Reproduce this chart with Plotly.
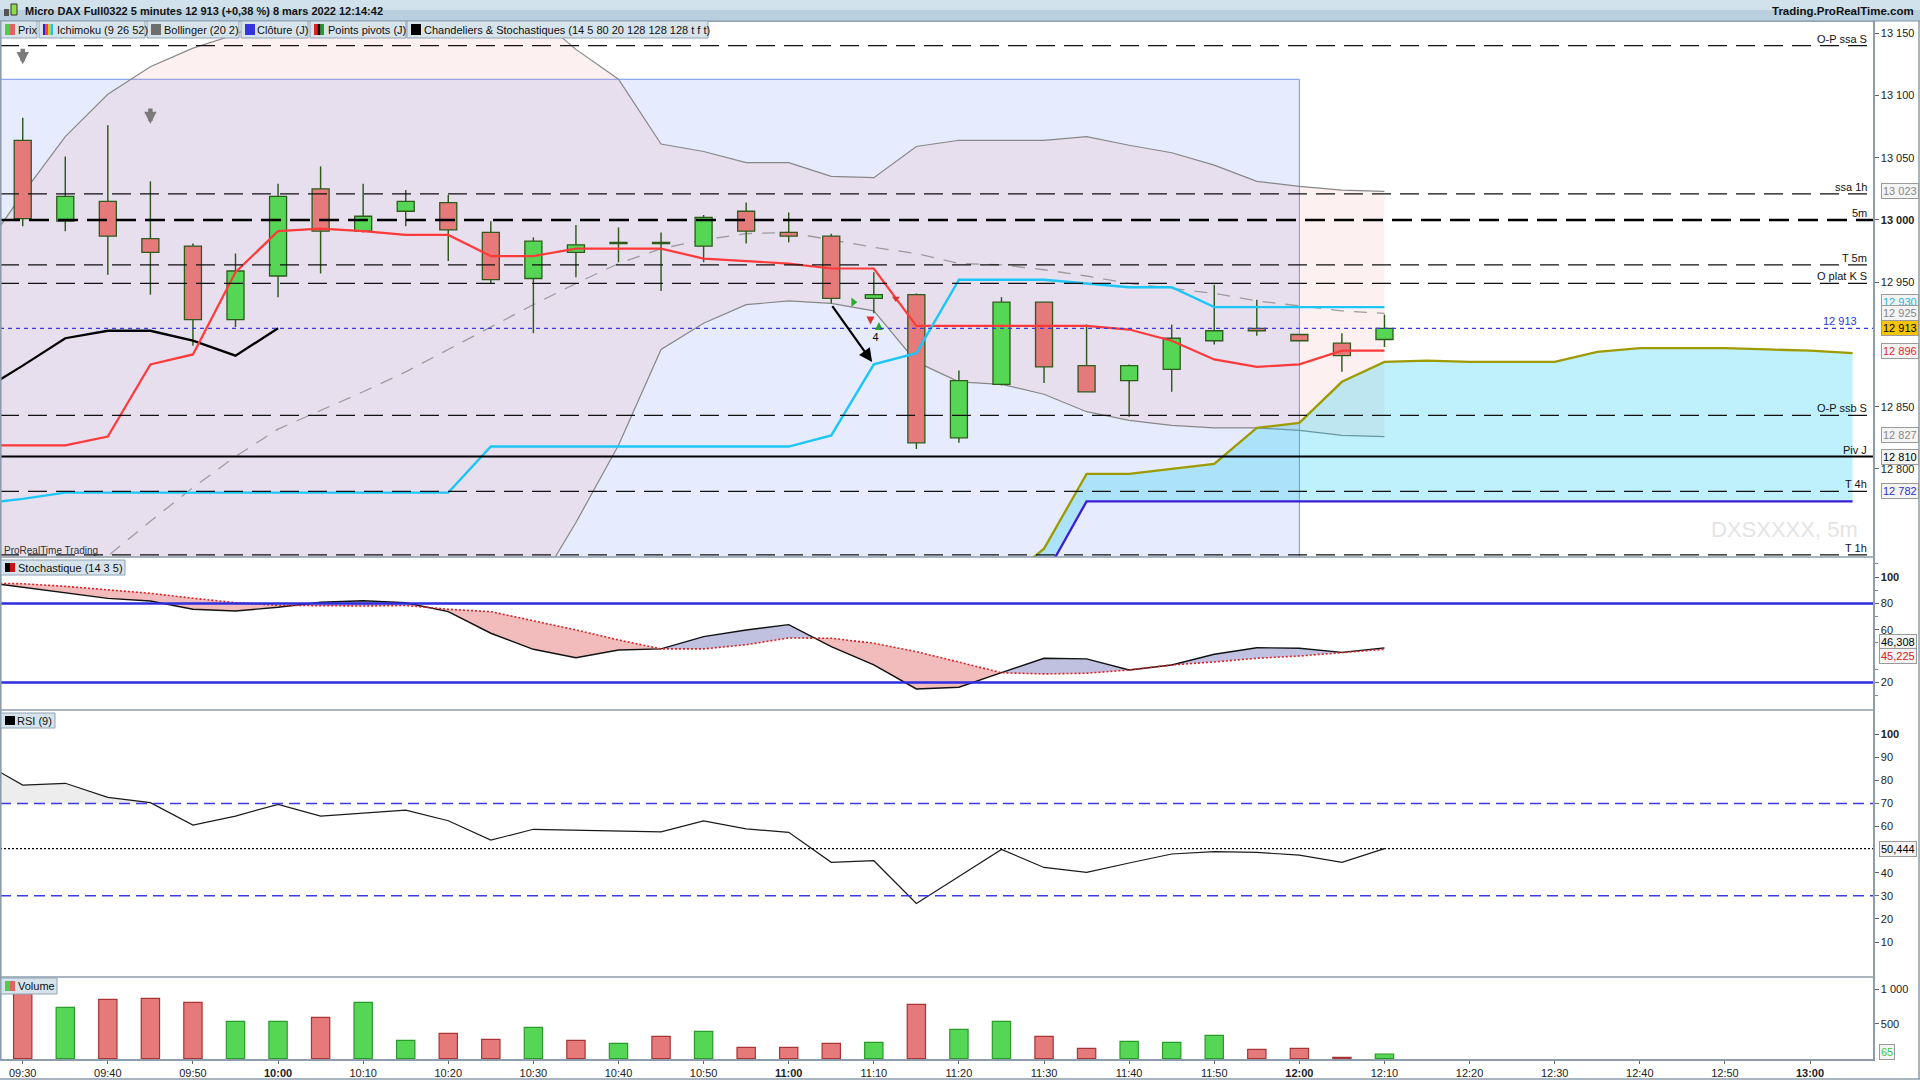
import plotly.graph_objects as go

# Micro DAX Full0322, 5 minutes, 8 mars 2022
times = ["09:30", "09:35", "09:40", "09:45", "09:50", "09:55",
         "10:00", "10:05", "10:10", "10:15", "10:20", "10:25",
         "10:30", "10:35", "10:40", "10:45", "10:50", "10:55",
         "11:00", "11:05", "11:10", "11:15", "11:20", "11:25",
         "11:30", "11:35", "11:40", "11:45", "11:50", "11:55",
         "12:00", "12:05", "12:10"]
opens = [13064, 12999, 13015, 12985, 12979, 12920, 12955, 13025, 12991, 13007, 13014,
         12990, 12953, 12974, 12981, 12981, 12979, 13007, 12990, 12987, 12937, 12940,
         12825, 12868, 12934, 12883, 12871, 12880, 12903, 12913, 12908, 12901, 12904]
highs = [13082, 13051, 13076, 13031, 12981, 12973, 13029, 13043, 13029, 13024, 13020,
         12999, 12986, 12996, 12994, 12990, 13004, 13014, 13006, 12989, 12958, 12941,
         12879, 12938, 12934, 12916, 12884, 12916, 12948, 12936, 12908, 12909, 12924]
lows = [12995, 12991, 12956, 12940, 12899, 12914, 12938, 12957, 12990, 12995, 12967,
        12949, 12909, 12954, 12966, 12943, 12966, 12981, 12982, 12933, 12925, 12816,
        12821, 12867, 12869, 12862, 12842, 12862, 12900, 12907, 12903, 12878, 12898]
closes = [13001, 13019, 12987, 12974, 12920, 12959, 13019, 12991, 13003, 13015, 12992,
          12952, 12983, 12980, 12982, 12982, 13002, 12991, 12987, 12937, 12940, 12821,
          12871, 12934, 12882, 12862, 12883, 12905, 12911, 12911, 12903, 12891, 12913]
volumes = [950, 737, 852, 866, 809, 535, 535, 593, 809, 262, 363,
           276, 449, 262, 219, 319, 391, 161, 161, 219, 233, 780,
           420, 535, 319, 147, 247, 233, 334, 132, 147, 17, 65]
vol_dir = ["d", "u", "d", "d", "d", "u", "u", "d", "u", "u", "d",
           "d", "u", "d", "u", "d", "u", "d", "d", "d", "u", "d",
           "u", "u", "d", "d", "u", "u", "u", "d", "d", "d", "u"]

# indicators start one bar earlier (previous bar slot at 09:25)
ind_times = ["09:25"] + times
tenkan = [12819, 12819, 12819, 12826, 12884, 12892, 12958, 12991, 12993, 12991, 12988,
          12988, 12971, 12971, 12977, 12977, 12977, 12969, 12967, 12965, 12961, 12961,
          12915, 12915, 12915, 12915, 12915, 12912, 12903, 12888, 12882, 12884, 12895, 12895]
kijun = [12772, 12776, 12781, 12781, 12781, 12781, 12781, 12781, 12781, 12781, 12781,
         12781, 12818, 12818, 12818, 12818, 12818, 12818, 12818, 12818, 12827, 12884,
         12893, 12952, 12952, 12952, 12949, 12946, 12946, 12930, 12930, 12930, 12930, 12930]
chikou_times = ["09:25", "09:30", "09:35", "09:40", "09:45", "09:50", "09:55", "10:00"]
chikou = [12862, 12883, 12905, 12911, 12911, 12903, 12891, 12913]
boll_up = [12972, 13021, 13067, 13101, 13123, 13138, 13149, 13166, 13178, 13185, 13188,
           13186, 13178, 13166, 13137, 13113, 13061, 13055, 13046, 13046, 13035, 13034,
           13059, 13064, 13064, 13064, 13067, 13060, 13054, 13044, 13031, 13027, 13024, 13023]
boll_mid = [12655, 12680, 12705, 12730, 12758, 12785, 12810, 12832, 12847, 12862, 12878,
            12896, 12914, 12932, 12949, 12965, 12977, 12984, 12989, 12990, 12984, 12978,
            12973, 12965, 12964, 12960, 12955, 12949, 12945, 12941, 12935, 12931, 12927, 12925]
boll_low = [12340, 12340, 12345, 12360, 12393, 12432, 12471, 12498, 12516, 12539, 12568,
            12606, 12650, 12700, 12757, 12819, 12896, 12917, 12932, 12935, 12933, 12927,
            12886, 12870, 12868, 12860, 12846, 12839, 12835, 12833, 12833, 12831, 12827, 12826]
cloud_times = ["11:25", "11:30", "11:35", "11:40", "11:45", "11:50", "11:55",
               "12:00", "12:05", "12:10", "12:15", "12:20", "12:25", "12:30",
               "12:35", "12:40", "12:45", "12:50", "12:55", "13:00", "13:05"]
ssa = [12708, 12736, 12796, 12796, 12800, 12804, 12833, 12837, 12870, 12886, 12887,
       12886, 12886, 12886, 12894, 12897, 12897, 12897, 12896, 12895, 12893]
ssb = [12650, 12713, 12774, 12774, 12774, 12774, 12774, 12774, 12774, 12774, 12774,
       12774, 12774, 12774, 12774, 12774, 12774, 12774, 12774, 12774, 12774]
stoch_k = [96.5, 92.4, 88.3, 83.9, 81.9, 75.6, 74.3, 77.1, 80.9, 82.1, 80.6, 73.8,
           57.4, 45.2, 38.8, 44.7, 45.5, 54.8, 59.9, 63.9, 47.2, 33.3, 15.1, 16.4,
           27.5, 38.4, 37.9, 29.5, 33.3, 41.4, 46.4, 46.0, 42.9, 46.3]
stoch_d = [95.5, 95.0, 93.0, 90.5, 87.7, 84.0, 80.6, 78.6, 78.1, 78.1, 78.5, 75.6,
           73.8, 67.0, 59.9, 52.3, 45.5, 45.5, 48.7, 53.8, 53.6, 49.8, 43.4, 35.5,
           27.4, 26.5, 27.0, 29.5, 33.3, 35.6, 38.4, 40.1, 42.6, 45.2]
rsi = [88.4, 77.9, 78.7, 72.6, 70.3, 60.6, 64.5, 69.6, 64.5, 65.8, 67.1, 62.5,
       54.1, 58.8, 58.5, 58.2, 57.7, 62.4, 59.0, 57.5, 44.5, 45.2, 26.7, 38.4,
       50.1, 42.3, 40.2, 44.2, 48.1, 49.1, 48.8, 47.6, 44.5, 50.44]

level_names = ["O-P ssa S", "ssa 1h", "5m", "T 5m", "O plat K S", "O-P ssb S", "Piv J", "T 4h", "T 1h"]
level_values = [13140, 13021, 13000, 12964, 12949, 12843, 12810, 12782, 12731]
last_price = 12913
zone_top = 13113
zone_end = "12:00"

box_texts = ["13 023", "12 930", "12 925", "12 896", "12 913", "12 827", "12 810", "12 782"]
box_values = [13023, 12934, 12925, 12895, 12913, 12827, 12810, 12782]
box_colors = ["#888888", "#1ab4e6", "#888888", "#e82828", "#000000", "#888888", "#000000", "#2d2dd0"]

price_ticks = [13150, 13100, 13050, 13000, 12950, 12850, 12800]
stoch_ticks = [100, 80, 60, 20]
rsi_ticks = [100, 90, 80, 70, 60, 40, 30, 20, 10]
vol_ticks = [1000, 500]
time_ticks = ["09:30", "09:40", "09:50", "10:00", "10:10", "10:20", "10:30", "10:40", "10:50",
              "11:00", "11:10", "11:20", "11:30", "11:40", "11:50", "12:00", "12:10", "12:20",
              "12:30", "12:40", "12:50", "13:00"]

# ---------------------------------------------------------------
W, H = 1920, 1080
ML, MR, MT, MB = 0, 47, 21, 21
PW, PH = W - ML - MR, H - MT - MB


def px(v):
    return (v - ML) / PW


def py(v):
    return (H - MB - v) / PH


def hhmm(s):
    h, m = s.split(":")
    return int(h) * 60 + int(m)


def fmt(v):
    return f"{v:,}".replace(",", " ")


def with_crossings(xs, a, b):
    ox, oa, ob = [xs[0]], [a[0]], [b[0]]
    for k in range(1, len(xs)):
        d0, d1 = a[k - 1] - b[k - 1], a[k] - b[k]
        if d0 * d1 < 0:
            f = d0 / (d0 - d1)
            xc = xs[k - 1] + f * (xs[k] - xs[k - 1])
            yc = a[k - 1] + f * (a[k] - a[k - 1])
            ox.append(xc); oa.append(yc); ob.append(yc)
        ox.append(xs[k]); oa.append(a[k]); ob.append(b[k])
    return ox, oa, ob


xb = [hhmm(t) for t in times]
xi = [hhmm(t) for t in ind_times]
xk = [hhmm(t) for t in cloud_times]
X_RANGE = [567.33, 787.4]
Y_MAIN = [12729.3, 13159.8]
Y_STO = [-0.9, 115.3]
Y_RSI = [-5.1, 110.4]
Y_VOL = [-7, 1173]

GREEN, RED, EDGE = "#55d655", "#e67a7a", "#2e5a1c"

fig = go.Figure()

# Bollinger (20 2)
fig.add_trace(go.Scatter(x=xi, y=boll_low, mode="lines", line=dict(color="#878787", width=1.2),
                         xaxis="x", yaxis="y"))
fig.add_trace(go.Scatter(x=xi, y=boll_up, mode="lines", line=dict(color="#878787", width=1.2),
                         fill="tonexty", fillcolor="rgba(240,130,130,0.12)", xaxis="x", yaxis="y"))
fig.add_trace(go.Scatter(x=xi, y=boll_mid, mode="lines",
                         line=dict(color="#9c9c9c", width=1.3, dash="13px,10px"), xaxis="x", yaxis="y"))
# Ichimoku cloud
fig.add_trace(go.Scatter(x=xk, y=ssb, mode="lines", line=dict(color="#3a1ed6", width=2.3),
                         xaxis="x", yaxis="y"))
fig.add_trace(go.Scatter(x=xk, y=ssa, mode="lines", line=dict(color="#9e9a00", width=2.3),
                         fill="tonexty", fillcolor="rgba(0,200,245,0.25)", xaxis="x", yaxis="y"))

# candles (overlay axis so they sit above the fills)
wick_len = [h - lo for h, lo in zip(highs, lows)]
fig.add_trace(go.Bar(x=xb, y=wick_len, base=lows, width=0.17, marker=dict(color=EDGE, line=dict(width=0)),
                     xaxis="x", yaxis="y5"))
body_base = [min(o, c) for o, c in zip(opens, closes)]
body_len = [max(abs(c - o), 0.5) for o, c in zip(opens, closes)]
body_col = [GREEN if c >= o else RED for o, c in zip(opens, closes)]
fig.add_trace(go.Bar(x=xb, y=body_len, base=body_base, width=2.0,
                     marker=dict(color=body_col, line=dict(color=EDGE, width=1.3)),
                     xaxis="x", yaxis="y5"))

fig.add_trace(go.Scatter(x=[hhmm(t) for t in chikou_times], y=chikou, mode="lines",
                         line=dict(color="#000000", width=2.3), xaxis="x", yaxis="y5"))
fig.add_trace(go.Scatter(x=xi, y=tenkan, mode="lines", line=dict(color="#ff3a3a", width=2.2),
                         xaxis="x", yaxis="y5"))
fig.add_trace(go.Scatter(x=xi, y=kijun, mode="lines", line=dict(color="#1cc6f6", width=2.4),
                         xaxis="x", yaxis="y5"))

# small signal marks around 11:05-11:15
fig.add_trace(go.Scatter(x=[667.6], y=[12934], mode="markers",
                         marker=dict(symbol="triangle-right", size=8, color="#26b026"), xaxis="x", yaxis="y5"))
fig.add_trace(go.Scatter(x=[669.6], y=[12916], mode="markers",
                         marker=dict(symbol="arrow-down", size=8, color="#e03030"), xaxis="x", yaxis="y5"))
fig.add_trace(go.Scatter(x=[670.6], y=[12918], mode="markers",
                         marker=dict(symbol="arrow-up", size=8, color="#22aa22"), xaxis="x", yaxis="y5"))
fig.add_trace(go.Scatter(x=[672.6], y=[12937], mode="markers",
                         marker=dict(symbol="triangle-down", size=7, color="#e03030"), xaxis="x", yaxis="y5"))
fig.add_trace(go.Scatter(x=[670.2], y=[12905], mode="text", text=["4"],
                         textfont=dict(size=11, color="#000"), xaxis="x", yaxis="y5"))

# Stochastique (14 3 5)
sx, sk, sd = with_crossings(xi, stoch_k, stoch_d)
s_lo = [min(a, b) for a, b in zip(sk, sd)]
fig.add_trace(go.Scatter(x=sx, y=s_lo, mode="lines", line=dict(width=0), xaxis="x", yaxis="y2"))
fig.add_trace(go.Scatter(x=sx, y=sd, mode="lines", line=dict(width=0), fill="tonexty",
                         fillcolor="rgba(232,140,140,0.58)", xaxis="x", yaxis="y2"))
fig.add_trace(go.Scatter(x=sx, y=s_lo, mode="lines", line=dict(width=0), xaxis="x", yaxis="y2"))
fig.add_trace(go.Scatter(x=sx, y=sk, mode="lines", line=dict(width=0), fill="tonexty",
                         fillcolor="rgba(150,150,205,0.6)", xaxis="x", yaxis="y2"))
fig.add_trace(go.Scatter(x=xi, y=stoch_k, mode="lines", line=dict(color="#111111", width=1.4),
                         xaxis="x", yaxis="y2"))
fig.add_trace(go.Scatter(x=xi, y=stoch_d, mode="lines", line=dict(color="#e02020", width=1.6, dash="2px,2px"),
                         xaxis="x", yaxis="y2"))

# RSI (9)
rsi_ob = [70] * len(xi)
rx, rv, rb = with_crossings(xi, rsi, rsi_ob)
fig.add_trace(go.Scatter(x=rx, y=rb, mode="lines", line=dict(width=0), xaxis="x", yaxis="y3"))
fig.add_trace(go.Scatter(x=rx, y=[max(a, b) for a, b in zip(rv, rb)], mode="lines", line=dict(width=0),
                         fill="tonexty", fillcolor="#ededed", xaxis="x", yaxis="y3"))
fig.add_trace(go.Scatter(x=xi, y=rsi, mode="lines", line=dict(color="#1a1a1a", width=1.2),
                         xaxis="x", yaxis="y3"))

# Volume
fig.add_trace(go.Bar(x=xb, y=volumes, width=2.15,
                     marker=dict(color=[GREEN if d == "u" else RED for d in vol_dir],
                                 line=dict(color=["#2a9a2a" if d == "u" else "#a83434" for d in vol_dir],
                                           width=1.2)),
                     xaxis="x", yaxis="y4"))

# ---------------------------------------------------------------
shapes = []
annots = []
FRAME = "#8d9dab"

# time zone rectangle
shapes.append(dict(type="rect", xref="x", yref="y", x0=X_RANGE[0] - 5, x1=hhmm(zone_end),
                   y0=Y_MAIN[0] - 20, y1=zone_top, fillcolor="rgba(60,110,240,0.13)",
                   line=dict(color="#7393ea", width=1), layer="below"))

for name, val in zip(level_names, level_values):
    if name == "5m":
        ln = dict(color="#000", width=2.6, dash="20px,9px")
    elif name == "Piv J":
        ln = dict(color="#000", width=2.2)
    else:
        ln = dict(color="#111", width=1.3, dash="19px,9px")
    shapes.append(dict(type="line", xref="x", yref="y", x0=X_RANGE[0], x1=X_RANGE[1], y0=val, y1=val,
                       line=ln, layer="above"))
    annots.append(dict(xref="paper", x=px(1869), xanchor="right", yref="y", y=val, yanchor="bottom",
                       text=name, showarrow=False, font=dict(size=11, color="#111"), yshift=-1))
shapes.append(dict(type="line", xref="x", yref="y", x0=X_RANGE[0], x1=X_RANGE[1], y0=last_price,
                   y1=last_price, line=dict(color="#3a3ad8", width=1.2, dash="4px,4px"), layer="above"))
annots.append(dict(xref="paper", x=px(1859), xanchor="right", yref="y", y=last_price, yanchor="bottom",
                   text=fmt(last_price), showarrow=False, font=dict(size=11, color="#3434d4"), yshift=-1))

# stochastic / rsi guide lines
for v in (80, 20):
    shapes.append(dict(type="line", xref="x", yref="y2", x0=X_RANGE[0], x1=X_RANGE[1], y0=v, y1=v,
                       line=dict(color="#2c2ce0", width=2.4), layer="above"))
for v in (70, 30):
    shapes.append(dict(type="line", xref="x", yref="y3", x0=X_RANGE[0], x1=X_RANGE[1], y0=v, y1=v,
                       line=dict(color="#3a3ae6", width=1.5, dash="11px,6px"), layer="above"))
shapes.append(dict(type="line", xref="x", yref="y3", x0=X_RANGE[0], x1=X_RANGE[1], y0=rsi[-1], y1=rsi[-1],
                   line=dict(color="#000", width=1.3, dash="2px,2px"), layer="above"))

# frame / panel separators
for yy in (21, 557, 710, 977):
    shapes.append(dict(type="line", xref="paper", yref="paper", x0=0, x1=px(1873), y0=py(yy), y1=py(yy),
                       line=dict(color=FRAME, width=1.6)))
shapes.append(dict(type="line", xref="paper", yref="paper", x0=px(0.8), x1=px(0.8), y0=py(1059), y1=py(21),
                   line=dict(color=FRAME, width=1.6)))
shapes.append(dict(type="line", xref="paper", yref="paper", x0=0, x1=px(1920), y0=py(1079), y1=py(1079),
                   line=dict(color=FRAME, width=1.5)))
shapes.append(dict(type="line", xref="paper", yref="paper", x0=px(1919), x1=px(1919), y0=py(1079), y1=py(0),
                   line=dict(color=FRAME, width=1.5)))

# title bar
shapes.append(dict(type="rect", xref="paper", yref="paper", x0=0, x1=px(1920), y0=py(10), y1=py(0),
                   fillcolor="#d2e2ec", line=dict(width=0)))
shapes.append(dict(type="rect", xref="paper", yref="paper", x0=0, x1=px(1920), y0=py(21), y1=py(10),
                   fillcolor="#b9cfdd", line=dict(width=0)))
shapes.append(dict(type="line", xref="paper", yref="paper", x0=0, x1=px(1920), y0=py(21), y1=py(21),
                   line=dict(color="#7f95a6", width=1)))
annots.append(dict(xref="paper", yref="paper", x=px(23), y=py(10.5), xanchor="left", yanchor="middle",
                   text="<b>Micro DAX Full0322 5 minutes 12 913 (+0,38 %) 8 mars 2022 12:14:42</b>",
                   showarrow=False, font=dict(size=11, color="#111")))
annots.append(dict(xref="paper", yref="paper", x=px(1916), y=py(10.5), xanchor="right", yanchor="middle",
                   text="<b>Trading.ProRealTime.com</b>", showarrow=False, font=dict(size=11.5, color="#111")))
# title icon
shapes.append(dict(type="rect", xref="paper", yref="paper", x0=px(4), x1=px(9), y0=py(16), y1=py(9),
                   fillcolor="#555", line=dict(width=0)))
shapes.append(dict(type="rect", xref="paper", yref="paper", x0=px(11), x1=px(17), y0=py(15), y1=py(4),
                   fillcolor="#8be04a", line=dict(color="#333", width=1)))


def label_box(x0, x1, y0, y1, text, icons, tx):
    shapes.append(dict(type="rect", xref="paper", yref="paper", x0=px(x0), x1=px(x1), y0=py(y1), y1=py(y0),
                       fillcolor="#d7e3eb", line=dict(color="#8ea4b4", width=1)))
    n = len(icons)
    iw = 10.0 / n
    for k, c in enumerate(icons):
        shapes.append(dict(type="rect", xref="paper", yref="paper", x0=px(x0 + 4 + k * iw),
                           x1=px(x0 + 4 + (k + 1) * iw), y0=py(y1 - 3), y1=py(y0 + 3),
                           fillcolor=c, line=dict(width=0)))
    annots.append(dict(xref="paper", yref="paper", x=px(tx), y=py((y0 + y1) / 2), xanchor="left",
                       yanchor="middle", text=text, showarrow=False, font=dict(size=11, color="#111")))


label_box(1, 37, 21, 38, "Prix", ["#4cd04c", "#e06464"], 16)
label_box(39, 145, 21, 38, "Ichimoku (9 26 52)", ["#3318d8", "#ff3b3b", "#e8c800", "#1ec4f4"], 55)
label_box(147, 239, 21, 38, "Bollinger (20 2)", ["#6e6e6e"], 162)
label_box(241, 308, 21, 38, "Clôture (J)", ["#3434e0"], 255)
label_box(310, 406, 21, 38, "Points pivots (J)", ["#e02020", "#111111", "#20a020"], 326)
label_box(407, 708, 21, 38, "Chandeliers &amp; Stochastiques (14 5 80 20 128 128 128 t f t)", ["#000000"], 422)
label_box(1, 125, 560, 575, "Stochastique (14 3 5)", ["#000000", "#d01010"], 16)
label_box(1, 55, 713, 728, "RSI (9)", ["#000000"], 15)
label_box(1, 57, 978, 994, "Volume", ["#4cd04c", "#e06464"], 16)

annots.append(dict(xref="paper", yref="paper", x=px(2), y=py(550), xanchor="left", yanchor="middle",
                   text="ProRealTime Trading", showarrow=False, font=dict(size=10, color="#333")))
annots.append(dict(xref="paper", yref="paper", x=px(1860), y=py(529), xanchor="right", yanchor="middle",
                   text="DXSXXXX, 5m", showarrow=False, font=dict(size=22, color="#e4e4e4")))

# arrows on the price panel
for t, v in (("09:30", 13125), ("09:45", 13077)):
    annots.append(dict(xref="x", yref="y", x=hhmm(t), y=v, ax=0, ay=-17, text="", showarrow=True,
                       arrowhead=2, arrowsize=0.55, arrowwidth=4.5, arrowcolor="#7b7b7b"))
annots.append(dict(xref="x", yref="y", x=669.8, y=12886, axref="x", ayref="y", ax=hhmm("11:05"), ay=12932,
                   text="", showarrow=True, arrowhead=2, arrowsize=1.2, arrowwidth=2.2, arrowcolor="#000"))

# value boxes on the right axis
for txt, v, c in zip(box_texts, box_values, box_colors):
    bg = "#f6c400" if txt == fmt(last_price) else "#f4f4f4"
    annots.append(dict(xref="paper", x=px(1881), xanchor="left", yref="y", y=v, yanchor="middle",
                       text=txt, showarrow=False, font=dict(size=11, color=c), bgcolor=bg,
                       bordercolor="#9a9a9a", borderwidth=1, borderpad=1))
for txt, v, c in (("46,308", 51, "#000000"), ("45,225", 40, "#d82020")):
    annots.append(dict(xref="paper", x=px(1879), xanchor="left", yref="y2", y=v, yanchor="middle",
                       text=txt, showarrow=False, font=dict(size=11, color=c), bgcolor="#f4f4f4",
                       bordercolor="#9a9a9a", borderwidth=1, borderpad=1))
annots.append(dict(xref="paper", x=px(1879), xanchor="left", yref="y3", y=rsi[-1], yanchor="middle",
                   text="50,444", showarrow=False, font=dict(size=11, color="#000"), bgcolor="#f4f4f4",
                   bordercolor="#9a9a9a", borderwidth=1, borderpad=1))
annots.append(dict(xref="paper", x=px(1879), xanchor="left", yref="y4", y=100, yanchor="middle",
                   text=str(volumes[-1]), showarrow=False, font=dict(size=11, color="#3ccc3c"),
                   bgcolor="#f4f4f4", bordercolor="#9a9a9a", borderwidth=1, borderpad=1))

axis_common = dict(side="right", anchor="x", showgrid=False, zeroline=False, showline=True,
                   linecolor=FRAME, linewidth=1.6, ticks="outside", ticklen=4, tickcolor="#666",
                   tickfont=dict(size=11, color="#222"), fixedrange=True, tickmode="array")

fig.update_layout(
    width=W, height=H, margin=dict(l=ML, r=MR, t=MT, b=MB, pad=0),
    paper_bgcolor="white", plot_bgcolor="white", showlegend=False, hovermode=False,
    barmode="overlay",
    font=dict(family="Liberation Sans, Arial, sans-serif", size=11, color="#222"),
    xaxis=dict(range=X_RANGE, domain=[0, 1], anchor="y4", showgrid=False, zeroline=False,
               showline=True, linecolor=FRAME, linewidth=1.6, ticks="outside", ticklen=3,
               tickcolor="#666", tickmode="array", tickvals=[hhmm(t) for t in time_ticks],
               ticktext=[f"<b>{t}</b>" if t.endswith(":00") else t for t in time_ticks],
               tickfont=dict(size=11, color="#222"), fixedrange=True),
    yaxis=dict(domain=[py(557), 1], range=Y_MAIN, tickvals=price_ticks,
               ticktext=[f"<b>{fmt(v)}</b>" if v == 13000 else fmt(v) for v in price_ticks], **axis_common),
    yaxis5=dict(overlaying="y", range=Y_MAIN, visible=False, anchor="x", fixedrange=True),
    yaxis2=dict(domain=[py(710), py(557)], range=Y_STO, tickvals=stoch_ticks,
                ticktext=[f"<b>{v}</b>" if v == 100 else str(v) for v in stoch_ticks],
                minor=dict(tickvals=[110, 90, 70, 50, 30, 10], ticks="outside", ticklen=3, tickcolor="#888"),
                **axis_common),
    yaxis3=dict(domain=[py(977), py(710)], range=Y_RSI, tickvals=rsi_ticks,
                ticktext=[f"<b>{v}</b>" if v == 100 else str(v) for v in rsi_ticks], **axis_common),
    yaxis4=dict(domain=[0, py(977)], range=Y_VOL, tickvals=vol_ticks,
                ticktext=[fmt(v) for v in vol_ticks], **axis_common),
    shapes=shapes, annotations=annots,
)

fig.write_html("out.html", config={"displayModeBar": False, "staticPlot": True},
               post_script="document.body.style.margin='0';document.body.style.overflow='hidden';")
